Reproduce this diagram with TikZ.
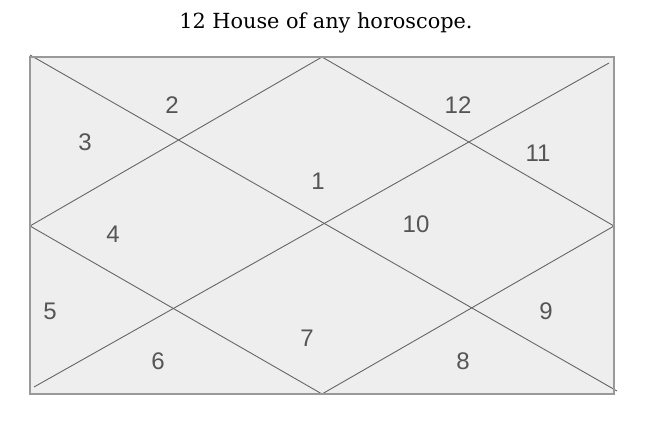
\documentclass[tikz,border=0pt]{standalone}
\usepackage{fontspec}
\setmainfont{DejaVu Serif}
\newfontfamily\numfont{Liberation Sans}
\definecolor{boxfill}{HTML}{EEEEEE}
\definecolor{boxedge}{HTML}{999999}
\definecolor{linegray}{HTML}{666666}
\definecolor{numgray}{HTML}{555555}
\begin{document}
\begin{tikzpicture}[x=1pt,y=-1pt,
  house/.style={font=\numfont\fontsize{24}{24}\selectfont, text=numgray, inner sep=0pt},
  chartline/.style={draw=linegray, line width=0.9pt},
  frame/.style={draw=boxedge, line width=1.6pt}]
\useasboundingbox (0,0) rectangle (660,422);
% corners and vertices
\coordinate (tl) at (30,57);
\coordinate (br) at (614,394);
\coordinate (d1a) at (30,55);
\coordinate (d1b) at (617,391);
\coordinate (d2a) at (609,63);
\coordinate (d2b) at (34,387);
\coordinate (top) at (322,57);
\coordinate (left) at (30,226);
\coordinate (bot) at (322,394);
\coordinate (right) at (614,226);
\fill[boxfill] (tl) rectangle (br);
\draw[chartline] (d1a) -- (d1b);
\draw[chartline] (d2a) -- (d2b);
\draw[chartline] (top) -- (left) -- (bot) -- (right) -- cycle;
\draw[frame] (tl) rectangle (br);
% title
\node[font=\fontsize{20.8}{21}\selectfont, anchor=base, inner sep=0pt] (title) at (326,29) {12 House of any horoscope.};
% house numbers
\node[house] (h1) at (318,181) {1};
\node[house] (h2) at (172,105) {2};
\node[house] (h3) at (85,142) {3};
\node[house] (h4) at (113,234) {4};
\node[house] (h5) at (50,311) {5};
\node[house] (h6) at (158,361) {6};
\node[house] (h7) at (307,338) {7};
\node[house] (h8) at (463,361) {8};
\node[house] (h9) at (546,311) {9};
\node[house] (h10) at (416,224) {10};
\node[house] (h11) at (538,153) {11};
\node[house] (h12) at (458,105) {12};
\end{tikzpicture}
\end{document}
